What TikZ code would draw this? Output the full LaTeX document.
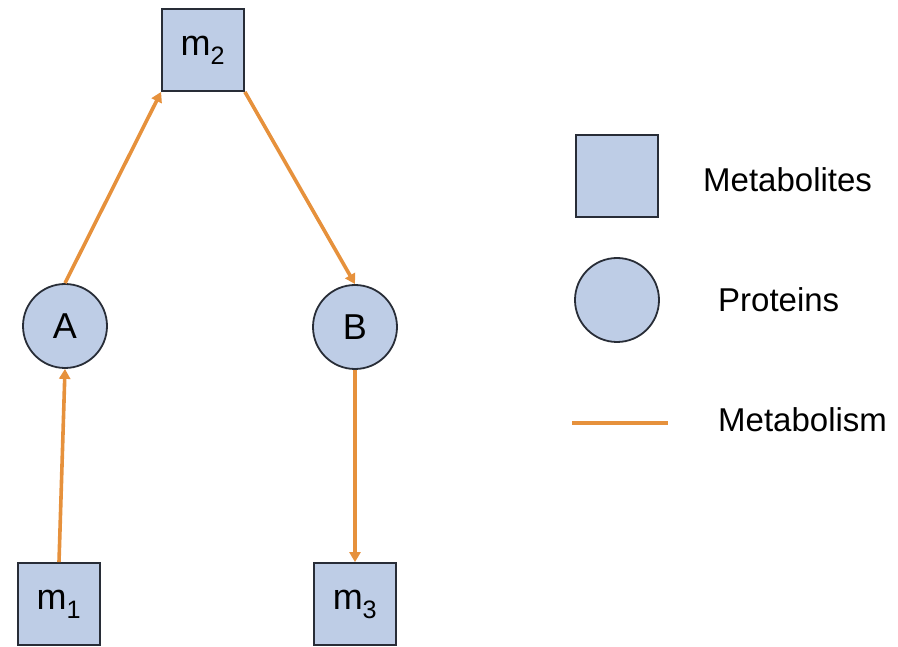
\documentclass[tikz,border=0pt]{standalone}
\usepackage{fontspec}
\setmainfont{Liberation Sans}
\usetikzlibrary{arrows.meta}
\definecolor{boxfill}{RGB}{190,205,230}
\definecolor{edgeorange}{RGB}{230,145,60}
\definecolor{outline}{RGB}{40,45,55}
\begin{document}
\begin{tikzpicture}[x=1pt,y=-1pt,
  metab/.style={draw=outline,line width=1.8pt,fill=boxfill,minimum width=82pt,minimum height=82pt,inner sep=0pt,font=\fontsize{36}{40}\selectfont},
  prot/.style={draw=outline,line width=1.8pt,fill=boxfill,circle,minimum size=84pt,inner sep=0pt,font=\fontsize{36}{40}\selectfont},
  flow/.style={draw=edgeorange,line width=3.6pt,-{Triangle[length=10pt,width=11pt]}},
  legtext/.style={anchor=west,font=\fontsize{33}{38}\selectfont,inner sep=0pt}]
\useasboundingbox (0,0) rectangle (898,647);
\node[metab] (m2) at (203,50) {m\textsubscript{2}};
\node[prot] (A) at (65,326) {A};
\node[prot] (B) at (355,327) {B};
\node[metab] (m1) at (59,604) {m\textsubscript{1}};
\node[metab] (m3) at (355,604) {m\textsubscript{3}};
\draw[flow] (m1.north) -- (A.south);
\draw[flow] (A.north) -- (m2.south west);
\draw[flow] (m2.south east) -- (B.north);
\draw[flow] (B.south) -- (m3.north);
% legend
\node[metab] (lm) at (617,176) {};
\node[prot] (lp) at (617,300) {};
\coordinate (ls) at (572,423);
\coordinate (le) at (668,423);
\draw[draw=edgeorange,line width=3.6pt] (ls) -- (le);
\node[legtext] (t1) at (703,180) {Metabolites};
\node[legtext] (t2) at (718,300) {Proteins};
\node[legtext] (t3) at (718,420) {Metabolism};
\end{tikzpicture}
\end{document}
